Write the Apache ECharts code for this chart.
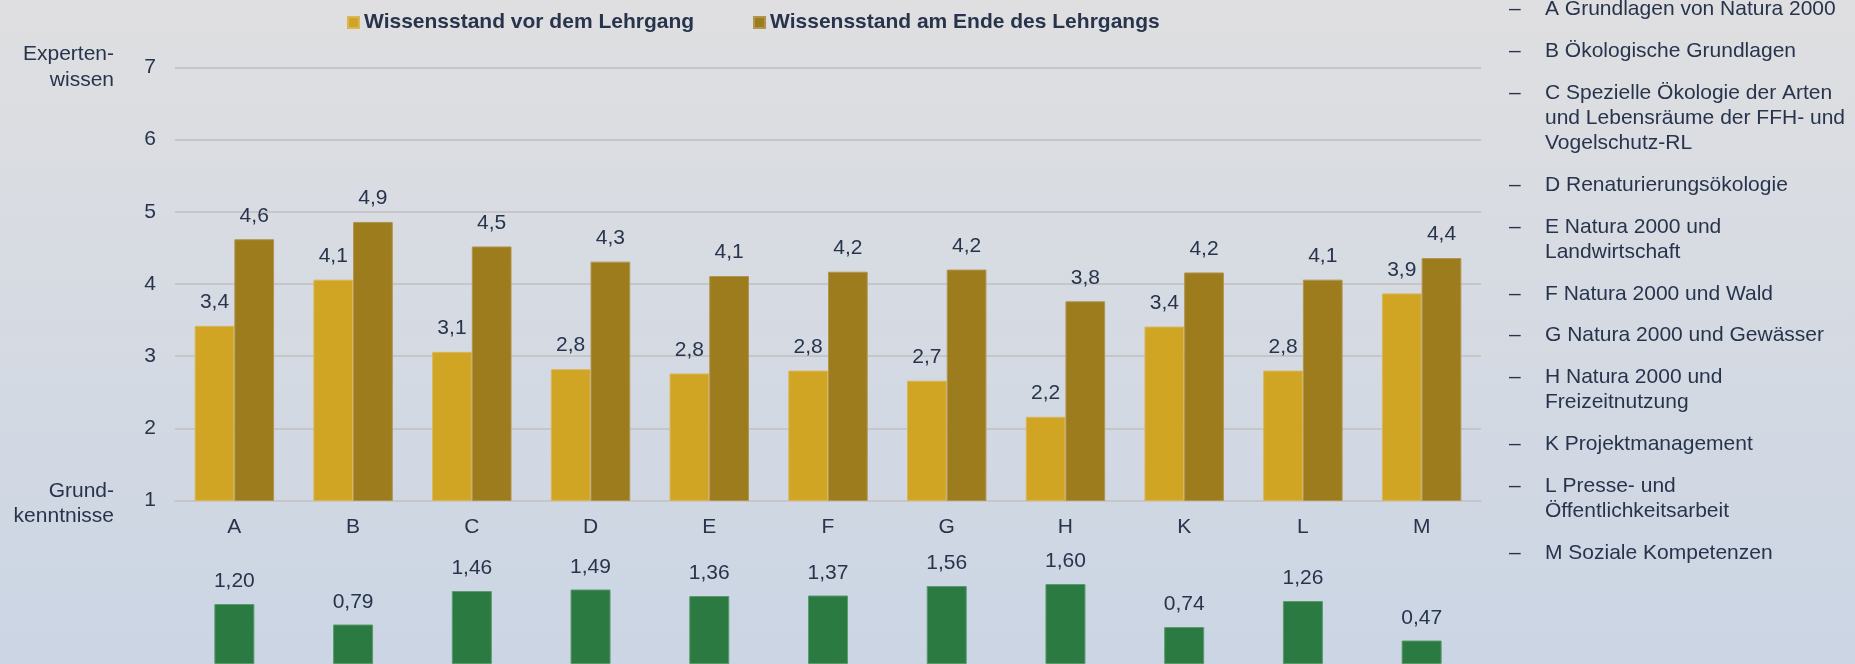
<!DOCTYPE html>
<html>
<head>
<meta charset="utf-8">
<script src="https://cdn.jsdelivr.net/npm/echarts@6/dist/echarts.min.js"></script>
<style>
  html, body { margin: 0; padding: 0; }
  #main { width: 1855px; height: 664px; }
</style>
</head>
<body>
<div id="main"></div>
<script>
// Daten
var categories = ['A', 'B', 'C', 'D', 'E', 'F', 'G', 'H', 'K', 'L', 'M'];
var vorher = [3.42, 4.06, 3.06, 2.82, 2.76, 2.80, 2.66, 2.16, 3.41, 2.80, 3.87];
var nachher = [4.62, 4.86, 4.52, 4.31, 4.11, 4.17, 4.20, 3.76, 4.16, 4.06, 4.36];
var zuwachs = [1.20, 0.79, 1.46, 1.49, 1.36, 1.37, 1.56, 1.60, 0.74, 1.26, 0.47];
var seriesNames = ['Wissensstand vor dem Lehrgang', 'Wissensstand am Ende des Lehrgangs'];
var themen = [
  ['A Grundlagen von Natura 2000'],
  ['B Ökologische Grundlagen'],
  ['C Spezielle Ökologie der Arten', 'und Lebensräume der FFH- und', 'Vogelschutz-RL'],
  ['D Renaturierungsökologie'],
  ['E Natura 2000 und', 'Landwirtschaft'],
  ['F Natura 2000 und Wald'],
  ['G Natura 2000 und Gewässer'],
  ['H Natura 2000 und', 'Freizeitnutzung'],
  ['K Projektmanagement'],
  ['L Presse- und', 'Öffentlichkeitsarbeit'],
  ['M Soziale Kompetenzen']
];

var FONT = 'Arial, "Liberation Sans", sans-serif';
var TXT = '#27344C';

function komma(digits) {
  return function (p) { return p.value.toFixed(digits).replace('.', ','); };
}

// Achsentitel links + Themenliste rechts
var graphics = [
  { type: 'text', style: { text: 'Experten-\nwissen', x: 114, y: 67, font: '21px ' + FONT, fill: TXT,
      textAlign: 'right', align: 'right', textVerticalAlign: 'middle', verticalAlign: 'middle', lineHeight: 26 } },
  { type: 'text', style: { text: 'Grund-\nkenntnisse', x: 114, y: 503.5, font: '21px ' + FONT, fill: TXT,
      textAlign: 'right', align: 'right', textVerticalAlign: 'middle', verticalAlign: 'middle', lineHeight: 25 } }
];
var yy = 9.5;
themen.forEach(function (zeilen) {
  graphics.push({ type: 'text', style: { text: '–', x: 1509, y: yy, font: '21px ' + FONT, fill: TXT,
      textVerticalAlign: 'middle', verticalAlign: 'middle' } });
  zeilen.forEach(function (z) {
    graphics.push({ type: 'text', style: { text: z, x: 1545, y: yy, font: '21px ' + FONT, fill: TXT,
        textVerticalAlign: 'middle', verticalAlign: 'middle' } });
    yy += 25.3;
  });
  yy += 16.4;
});

var myChart = echarts.init(document.getElementById('main'));
var option = {
  animation: false,
  backgroundColor: {
    type: 'linear', x: 0, y: 0, x2: 0, y2: 1,
    colorStops: [{ offset: 0, color: '#DFDFE1' }, { offset: 1, color: '#CBD5E4' }]
  },
  textStyle: { fontFamily: FONT, color: TXT },
  legend: {
    data: seriesNames,
    left: 342,
    top: 7,
    icon: 'rect',
    itemWidth: 11,
    itemHeight: 11,
    itemGap: 59,
    textStyle: { fontSize: 21, fontWeight: 'bold', color: TXT, fontFamily: FONT }
  },
  grid: [
    { left: 175, right: 374, top: 67.5, bottom: 163.5 },
    { left: 175, right: 374, top: 564, height: 102 }
  ],
  xAxis: [
    {
      type: 'category', gridIndex: 0, data: categories,
      axisLine: { lineStyle: { color: '#C6C6C9', width: 2 } },
      axisTick: { show: false },
      axisLabel: { fontSize: 21, color: TXT, margin: 16, fontFamily: FONT }
    },
    { type: 'category', gridIndex: 1, data: categories, show: false }
  ],
  yAxis: [
    {
      type: 'value', gridIndex: 0, min: 1, max: 7, interval: 1,
      axisLine: { show: false }, axisTick: { show: false },
      axisLabel: { fontSize: 21, color: TXT, margin: 19, fontFamily: FONT },
      splitLine: { lineStyle: { color: '#C6C6C9', width: 2 } }
    },
    { type: 'value', gridIndex: 1, min: 0, max: 2, show: false, splitLine: { show: false } }
  ],
  series: [
    {
      name: seriesNames[0], type: 'bar', data: vorher,
      xAxisIndex: 0, yAxisIndex: 0,
      barWidth: 39.7, barGap: '0%',
      itemStyle: { color: '#D0A524', borderColor: '#D9B65A', borderWidth: 1 },
      label: { show: true, position: 'top', distance: 13, fontSize: 21, color: TXT, fontFamily: FONT, formatter: komma(1) }
    },
    {
      name: seriesNames[1], type: 'bar', data: nachher,
      xAxisIndex: 0, yAxisIndex: 0,
      barWidth: 39.7, barGap: '0%',
      itemStyle: { color: '#9C7C1C', borderColor: '#B09450', borderWidth: 1 },
      label: { show: true, position: 'top', distance: 13, fontSize: 21, color: TXT, fontFamily: FONT, formatter: komma(1) }
    },
    {
      name: 'Zuwachs', type: 'bar', data: zuwachs,
      xAxisIndex: 1, yAxisIndex: 1,
      barWidth: 40,
      itemStyle: { color: '#2A7A41', borderColor: '#5A9A6C', borderWidth: 1 },
      label: { show: true, position: 'top', distance: 12, fontSize: 21, color: TXT, fontFamily: FONT, formatter: komma(2) }
    }
  ],
  graphic: graphics
};
myChart.setOption(option);
</script>
</body>
</html>
